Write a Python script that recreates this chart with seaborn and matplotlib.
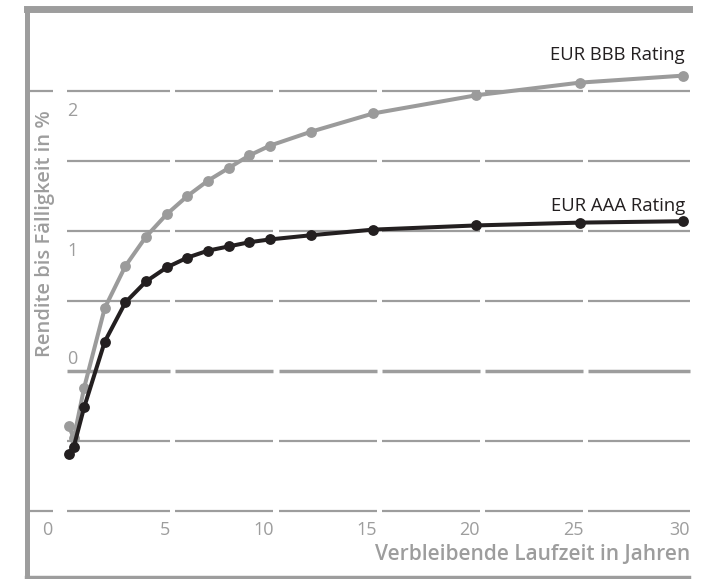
import matplotlib
matplotlib.use("Agg")
import matplotlib.pyplot as plt
import pandas as pd
import seaborn as sns

# Restlaufzeit in Jahren und Rendite in %
laufzeit = [0.25, 0.5, 1, 2, 3, 4, 5, 6, 7, 8, 9, 10, 12, 15, 20, 25, 30]
rendite_aaa = [-0.59, -0.54, -0.26, 0.21, 0.49, 0.64, 0.74, 0.81, 0.86, 0.89,
               0.92, 0.94, 0.97, 1.01, 1.04, 1.06, 1.07]
rendite_bbb = [-0.39, -0.48, -0.12, 0.45, 0.75, 0.96, 1.12, 1.25, 1.36, 1.45,
               1.54, 1.61, 1.71, 1.84, 1.97, 2.06, 2.11]
serien = ["EUR BBB Rating", "EUR AAA Rating"]
farben = ["#9b9b9b", "#231f20"]
x_ticks = [0, 5, 10, 15, 20, 25, 30]
y_grid = [-1, -0.5, 0, 0.5, 1, 1.5, 2]
y_ticks = [2, 1, 0]
# nur diese Gitterlinien reichen links bis an den Rahmen (sonst steht dort der Achsentitel)
y_stummel = [-1, 2]

df = pd.DataFrame({
    "laufzeit": laufzeit * 2,
    "rendite": rendite_bbb + rendite_aaa,
    "rating": [serien[0]] * len(laufzeit) + [serien[1]] * len(laufzeit),
})

sns.set_style("white")
plt.rcParams["font.family"] = ["Open Sans", "DejaVu Sans"]

grau = "#9d9d9d"
fig = plt.figure(figsize=(7.06, 5.79), dpi=100)
ax = fig.add_axes([26.5 / 706, 1.5 / 579, (689 - 26.5) / 706, (577.5 - 9) / 579])
x_min, x_max = -1.79, 30.29
ax.set_xlim(x_min, x_max)
ax.set_ylim(-1.475, 2.586)

# Gitterlinien mit Lücken an den x-Ticks
grid_ende = 30.33
luecken = [(-0.53, 0.17)] + [(t + 0.17, t + 0.42) for t in x_ticks[1:-1]]
for y in y_grid:
    lw = 2.5 if y == 0 else 1.6
    start = x_min
    for i, (a, b) in enumerate(luecken):
        if i > 0 or y in y_stummel:
            ax.hlines(y, start, a, color=grau, lw=lw, zorder=1, clip_on=False)
        start = b
    ax.hlines(y, start, grid_ende, color=grau, lw=lw, zorder=1, clip_on=False)

sns.lineplot(data=df, x="laufzeit", y="rendite", hue="rating", hue_order=serien,
             palette=farben, marker="o", markersize=7.8, markeredgewidth=0,
             linewidth=2.9, estimator=None, legend=False, ax=ax, zorder=3)

# Achsenbeschriftungen
for t, a in zip(x_ticks, [l[0] for l in luecken] + [grid_ende]):
    ax.text(a, -1.136, str(t), ha="right", va="center", fontsize=13,
            color=grau)
for t in y_ticks:
    if t == 0:
        ax.text(0.17, t + 0.025, str(t), ha="left", va="bottom", fontsize=13,
                color=grau)
    else:
        ax.text(0.17, t - 0.08, str(t), ha="left", va="top", fontsize=13,
                color=grau)

ax.text(grid_ende, -1.31, "Verbleibende Laufzeit in Jahren", ha="right",
        va="center", fontsize=15, color=grau, fontweight="semibold")
ax.text(-0.9, 0.98, "Rendite bis Fälligkeit in %", rotation=90, ha="center",
        va="center", fontsize=14.5, color=grau, fontweight="semibold")

# Serienbeschriftungen
ax.text(30.1, 2.26, serien[0], ha="right", va="center", fontsize=13.3, color=farben[1])
ax.text(30.1, 1.18, serien[1], ha="right", va="center", fontsize=13.3, color=farben[1])

ax.set_xticks([])
ax.set_yticks([])
ax.set_xlabel("")
ax.set_ylabel("")
ax.spines["right"].set_visible(False)
for s, w in [("left", 3.6), ("top", 5), ("bottom", 3.2)]:
    ax.spines[s].set_color(grau)
    ax.spines[s].set_linewidth(w)

fig.savefig("out.png", dpi=100)
